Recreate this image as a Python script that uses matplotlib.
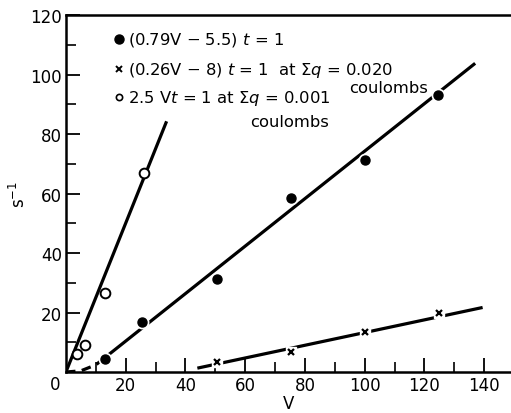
import matplotlib
matplotlib.use("Agg")
import matplotlib.pyplot as plt

plt.rcParams['font.family'] = ['DejaVu Sans']
plt.rcParams['mathtext.fontset'] = 'dejavusans'

# (0.79V - 5.5) t = 1 : filled circles
filled_V = [13, 25.5, 50.5, 75.5, 100, 124.5]
filled_rate = [4.5, 16.7, 31.3, 58.6, 71.3, 93.3]
filled_fit_V = [12.5, 137]
filled_fit_rate = [4.4, 103.8]
filled_tail_V = [0, 5, 10, 12.5]
filled_tail_rate = [0, 0.4, 2.4, 4.4]

# (0.26V - 8) t = 1 at sum q = 0.020 C : crosses
cross_V = [50.5, 75.5, 100, 125]
cross_rate = [3.3, 6.8, 13.3, 19.7]
cross_fit_V = [44, 139.5]
cross_fit_rate = [1.3, 21.7]

# 2.5 V t = 1 at sum q = 0.001 C : open circles
open_V = [3.8, 6.3, 13, 26]
open_rate = [6.2, 9.2, 26.5, 67]
open_fit_V = [0, 33.7]
open_fit_rate = [0, 84.3]

x_ticks = [20, 40, 60, 80, 100, 120, 140]
y_ticks = [20, 40, 60, 80, 100, 120]

fig = plt.figure(figsize=(5.11, 4.14), dpi=100)
ax = fig.add_axes([0.129, 0.099, 0.871, 0.862])
ax.set_xlim(0, 149)
ax.set_ylim(0, 120)

lw = 2.3
ax.plot(filled_fit_V, filled_fit_rate, color='black', lw=lw, solid_capstyle='butt')
ax.plot(filled_tail_V, filled_tail_rate, color='black', lw=lw, ls=(0, (3, 2)))
ax.plot(cross_fit_V, cross_fit_rate, color='black', lw=lw, solid_capstyle='butt')
ax.plot(open_fit_V, open_fit_rate, color='black', lw=lw, solid_capstyle='butt')

# white halos so the lines break around each marker
ax.plot(filled_V, filled_rate, 'o', ms=9, color='white', zorder=3)
ax.plot(filled_V, filled_rate, 'o', ms=6.5, color='black', zorder=4)
ax.plot(cross_V, cross_rate, 's', ms=6.5, color='white', zorder=3)
ax.plot(cross_V, cross_rate, 'x', ms=5, mew=1.6, color='black', zorder=4)
ax.plot(open_V, open_rate, 'o', ms=7, mfc='white', mec='black', mew=1.4, zorder=4)

# key
kx = 0.119
ax.plot([kx], [0.933], 'o', ms=6.5, color='black', transform=ax.transAxes, clip_on=False)
ax.plot([kx], [0.849], 'x', ms=4, mew=1.4, color='black', transform=ax.transAxes, clip_on=False)
ax.plot([kx], [0.770], 'o', ms=4.5, mfc='white', mec='black', mew=1.2,
        transform=ax.transAxes, clip_on=False)
fs = 11.8
tx = 0.139
ax.text(tx, 0.933, r'(0.79V $-$ 5.5) $t$ = 1', fontsize=fs, va='center',
        transform=ax.transAxes)
ax.text(tx, 0.849, r'(0.26V $-$ 8) $t$ = 1  at $\Sigma q$ = 0.020', fontsize=fs,
        va='center', transform=ax.transAxes)
ax.text(0.636, 0.798, 'coulombs', fontsize=fs, va='center', transform=ax.transAxes)
ax.text(tx, 0.770, r'2.5 V$t$ = 1 at $\Sigma q$ = 0.001', fontsize=fs, va='center',
        transform=ax.transAxes)
ax.text(0.413, 0.703, 'coulombs', fontsize=fs, va='center', transform=ax.transAxes)

ax.spines['right'].set_visible(False)
for side in ['left', 'bottom', 'top']:
    ax.spines[side].set_linewidth(1.8)

ax.set_xticks(x_ticks)
ax.set_yticks(y_ticks)
ax.set_xticks([10, 30, 50, 70, 90, 110, 130], minor=True)
ax.set_yticks([10, 30, 50, 70, 90, 110], minor=True)
ax.tick_params(which='major', direction='in', length=10, width=1.3, labelsize=12,
               top=False, right=False)
ax.tick_params(which='minor', direction='in', length=7, width=1.2, top=False, right=False)
ax.tick_params(axis='x', pad=3)
ax.tick_params(axis='y', pad=3)
ax.text(-0.025, -0.034, '0', fontsize=12, ha='center', va='center', transform=ax.transAxes)

ax.set_xlabel('V', fontsize=12, labelpad=0)
ax.set_ylabel(r's$^{-1}$', fontsize=12, labelpad=1)

fig.savefig('out.png', dpi=100)
